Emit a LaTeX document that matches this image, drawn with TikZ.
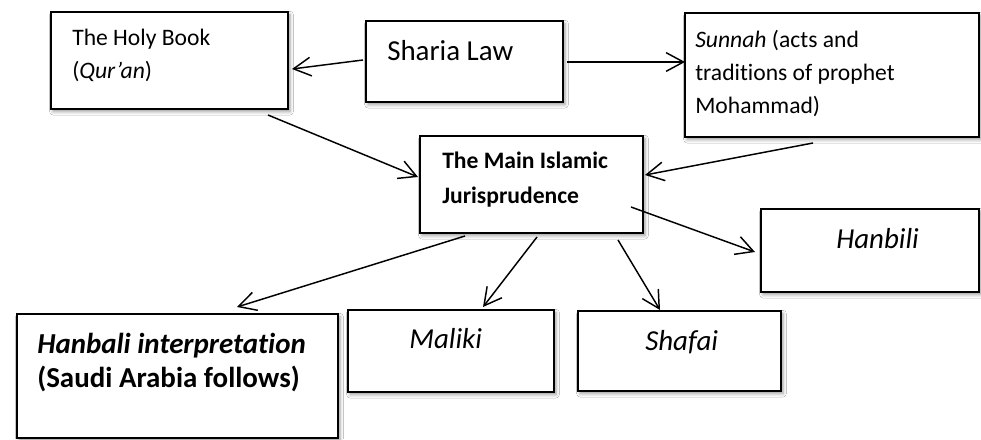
\documentclass[tikz,border=0pt]{standalone}
\usepackage{fontspec}
\setmainfont{Carlito}[Ligatures=NoCommon]
\usetikzlibrary{arrows.meta,shadows.blur,calc}
\newcommand{\stackl}[1]{\begin{tabular}[t]{@{}l@{}}#1\end{tabular}}
\begin{document}
\begin{tikzpicture}[x=0.75pt,y=-0.75pt,
  box/.style 2 args={draw=black, line width=1.4pt, fill=white,
    minimum width=#1*0.75pt, minimum height=#2*0.75pt,
    inner sep=0pt, outer sep=0pt, anchor=north west,
    blur shadow={shadow xshift=1.5pt, shadow yshift=-2pt, shadow blur radius=2.5pt, shadow opacity=40}},
  txt/.style={anchor=base west, inner sep=0pt, font=\fontsize{17.7}{25}\selectfont},
  big/.style={anchor=base west, inner sep=0pt, font=\fontsize{21.7}{25.5}\selectfont},
  arr/.style={line width=1.1pt, -{Straight Barb[length=13pt,width=14pt,line width=1.1pt]}}]
\fill[white] (0,0) rectangle (981,439);
\useasboundingbox (0,0) rectangle (981,439);

% boxes
\node[box={237}{97}]  (holy)    at (51,12)  {};
\node[box={197}{81}]  (sharia)  at (366,21) {};
\node[box={294}{124}] (sunnah)  at (685,13) {};
\node[box={223}{97}]  (main)    at (420,136) {};
\node[box={321}{124}] (hint)    at (17,314) {};
\node[box={206}{82}]  (maliki)  at (348,310) {};
\node[box={203}{80}]  (shafai)  at (578,311) {};
\node[box={218}{83}]  (hanbili) at (761,209) {};

% texts
\node[txt] (holyT) at (72,45) {\stackl{The Holy Book\\(\textit{Qur’an})}};
\node[big] (shariaT) at (387,60) {Sharia Law};
\node[txt] (sunnahT) at (695,47) {\stackl{\textit{Sunnah} (acts and\\traditions of prophet\\Mohammad)}};
\node[txt, font=\fontsize{17.7}{26.5}\selectfont\bfseries] (mainT) at (442,168) {\stackl{The Main Islamic\\Jurisprudence}};
\node[big, font=\fontsize{21.7}{25.5}\selectfont\bfseries] (hintT) at (37,353) {\stackl{\textit{Hanbali interpretation}\\(Saudi Arabia follows)}};
\node[big] (malikiT) at (409,348) {\textit{Maliki}};
\node[big] (shafaiT) at (645,350) {\textit{Shafai}};
\node[big] (hanbiliT) at (836,248) {\textit{Hanbili}};

% connectors
\draw[arr] ([shift={(-3,39)}]sharia.north west) -- ([shift={(4,57)}]holy.north east);
\draw[arr] ([shift={(4,41)}]sharia.north east) -- ([shift={(0,49)}]sunnah.north west);
\draw[arr] ([shift={(-20,6)}]holy.south east) -- ([shift={(-2,41)}]main.north west);
\draw[arr] ([shift={(128,6)}]sunnah.south west) -- ([shift={(2,39)}]main.north east);
\draw[arr] ([shift={(45,3)}]main.south west) -- ([shift={(220,-7)}]hint.north west);
\draw[arr] ([shift={(117,4)}]main.south west) -- ([shift={(135,-3)}]maliki.north west);
\draw[arr] ([shift={(198,7)}]main.south west) -- ([shift={(82,-1)}]shafai.north west);
\draw[arr] ([shift={(-12,-26)}]main.south east) -- ([shift={(-6,43)}]hanbili.north west);
\end{tikzpicture}
\end{document}
